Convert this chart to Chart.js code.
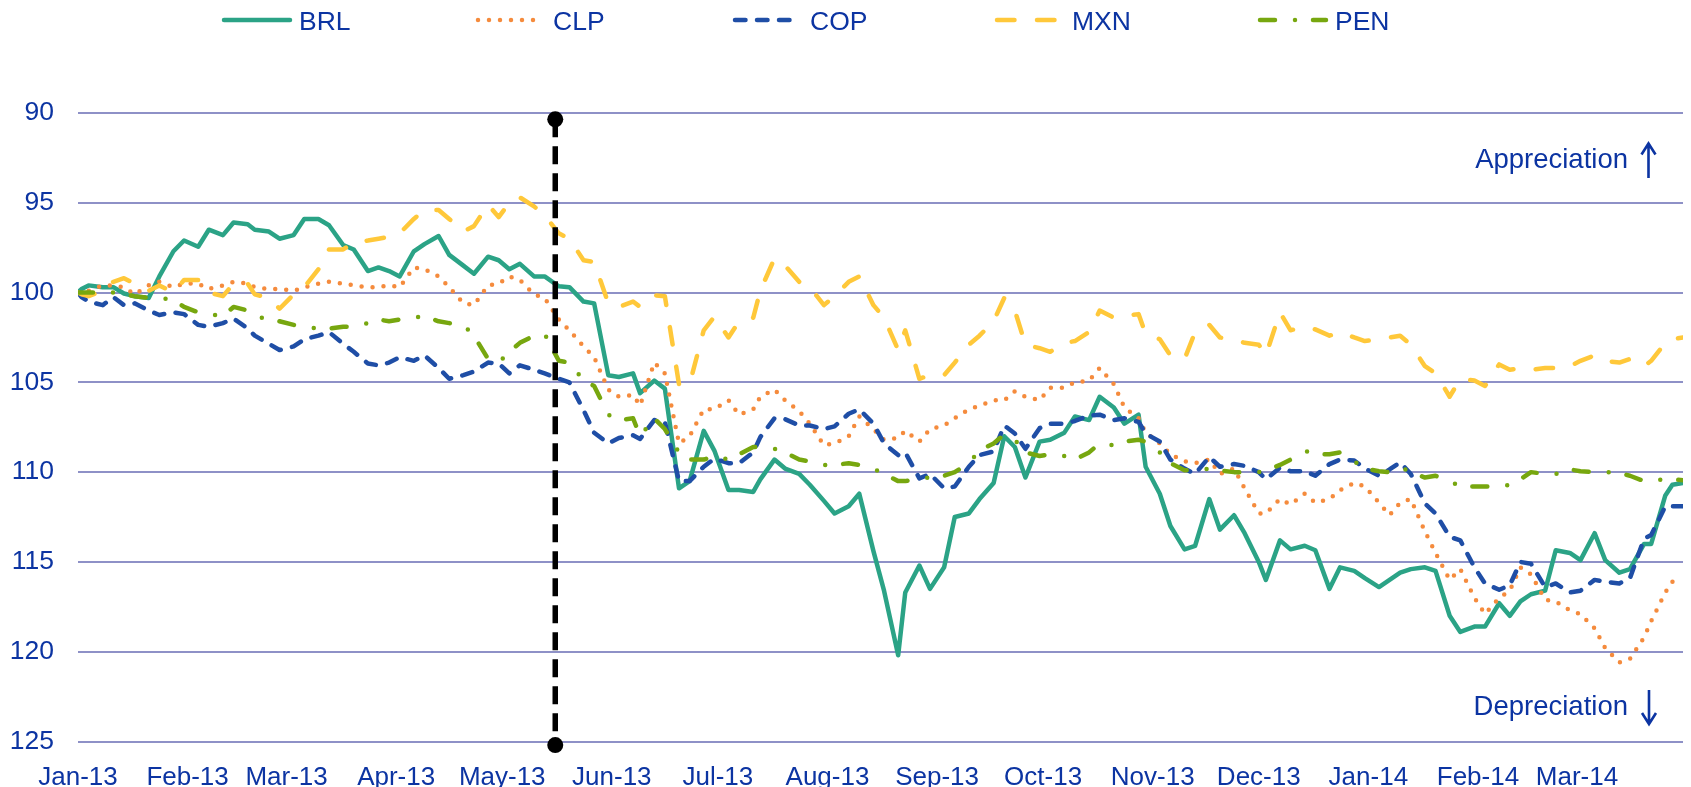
<!DOCTYPE html>
<html>
<head>
<meta charset="utf-8">
<title>LatAm currencies vs USD</title>
<script src="https://cdn.jsdelivr.net/npm/chart.js@4.4.1/dist/chart.umd.min.js"></script>
<style>
  html, body { margin: 0; padding: 0; background: #fff; }
  #wrap { width: 1691px; height: 787px; }
</style>
</head>
<body>
<div id="wrap"><canvas id="fxChart" width="1691" height="787"></canvas></div>
<script>
// index, 1 Jan 2013 = 100 (higher = weaker currency, axis is reversed)
const dates = [
  "2013-01-01","2013-01-02","2013-01-04","2013-01-08","2013-01-11","2013-01-14","2013-01-17","2013-01-21","2013-01-24","2013-01-28","2013-01-31",
  "2013-02-04","2013-02-07","2013-02-11","2013-02-14","2013-02-18","2013-02-20","2013-02-24","2013-02-27",
  "2013-03-03","2013-03-06","2013-03-10","2013-03-13","2013-03-17","2013-03-20","2013-03-24","2013-03-27","2013-03-30",
  "2013-04-02","2013-04-06","2013-04-09","2013-04-13","2013-04-16","2013-04-20","2013-04-23","2013-04-27","2013-04-30",
  "2013-05-03","2013-05-06","2013-05-10","2013-05-13","2013-05-17","2013-05-20","2013-05-24","2013-05-27","2013-05-31",
  "2013-06-03","2013-06-07","2013-06-09","2013-06-13","2013-06-16","2013-06-20","2013-06-23","2013-06-27","2013-06-30",
  "2013-07-04","2013-07-07","2013-07-11","2013-07-13","2013-07-17","2013-07-20","2013-07-24","2013-07-27","2013-07-31",
  "2013-08-03","2013-08-07","2013-08-10","2013-08-14","2013-08-17","2013-08-21","2013-08-23","2013-08-27","2013-08-30",
  "2013-09-03","2013-09-06","2013-09-10","2013-09-13","2013-09-17","2013-09-20","2013-09-23","2013-09-26","2013-09-30",
  "2013-10-03","2013-10-07","2013-10-10","2013-10-14","2013-10-17","2013-10-21","2013-10-24","2013-10-28","2013-10-30",
  "2013-11-03","2013-11-06","2013-11-10","2013-11-13","2013-11-17","2013-11-20","2013-11-24","2013-11-27",
  "2013-12-01","2013-12-03","2013-12-07","2013-12-10","2013-12-14","2013-12-17","2013-12-21","2013-12-24","2013-12-28","2013-12-31",
  "2014-01-04","2014-01-07","2014-01-10","2014-01-13","2014-01-17","2014-01-20","2014-01-24","2014-01-27","2014-01-31",
  "2014-02-03","2014-02-07","2014-02-10","2014-02-13","2014-02-16","2014-02-20","2014-02-23","2014-02-27",
  "2014-03-02","2014-03-06","2014-03-09","2014-03-13","2014-03-16","2014-03-20","2014-03-22","2014-03-26","2014-03-28","2014-03-31"
];

const brl = [
  100,
  99.8, 99.6, 99.7, 99.7, 100.05, 100.2, 100.3, 99.1, 97.7, 97.1,
  97.45, 96.5, 96.8, 96.1, 96.2, 96.5, 96.6, 97.0,
  96.8, 95.9, 95.9, 96.25, 97.35, 97.6, 98.8, 98.6, 98.8,
  99.1, 97.7, 97.3, 96.85, 97.9, 98.5, 98.95, 98.0, 98.2,
  98.7, 98.4, 99.1, 99.1, 99.65, 99.7, 100.5, 100.6, 104.6,
  104.7, 104.5, 105.6, 104.9, 105.35, 110.9, 110.5, 107.7, 108.8,
  111.0, 111.0, 111.1, 110.4, 109.3, 109.8, 110.1, 110.7, 111.6,
  112.3, 111.9, 111.2, 114.4, 116.6, 120.2, 116.7, 115.2, 116.5,
  115.3, 112.5, 112.3, 111.5, 110.6, 108.0, 108.6, 110.3, 108.3,
  108.2, 107.8, 106.9, 107.1, 105.8, 106.4, 107.3, 106.8, 109.7,
  111.2, 113.0, 114.3, 114.1, 111.5, 113.2, 112.4, 113.4,
  115.0, 116.0, 113.8, 114.3, 114.1, 114.35, 116.5, 115.3, 115.5, 115.9,
  116.4, 116.0, 115.6, 115.4, 115.3, 115.5, 118.0, 118.9, 118.6,
  118.6, 117.3, 118.0, 117.2, 116.8, 116.6, 114.35, 114.5,
  114.9, 113.4, 114.9, 115.6, 115.4, 114.0, 114.0, 111.3, 110.7, 110.6
];

const clp = [
  100,
  100.0, 99.9, 99.6, 99.6, 99.7, 100.1, 99.6, 99.4, 99.7, 99.5,
  99.5, 99.8, 99.6, 99.4, 99.5, 99.7, 99.8, 99.8,
  99.9, 99.7, 99.5, 99.4, 99.5, 99.6, 99.7, 99.7, 99.6,
  99.7, 98.6, 98.7, 99.1, 99.7, 100.6, 100.7, 99.6, 99.5,
  99.1, 99.3, 100.1, 100.3, 101.5, 102.1, 103.0, 103.6, 105.4,
  105.8, 105.7, 106.3, 103.9, 104.5, 108.4, 108.0, 106.5, 106.5,
  106.0, 106.8, 106.5, 105.8, 105.4, 106.0, 106.6, 107.3, 108.5,
  108.4, 108.0, 106.9, 107.6, 108.2, 108.1, 107.7, 108.3, 107.6,
  107.4, 107.0, 106.5, 106.3, 106.0, 106.0, 105.5, 105.8, 106.0,
  105.3, 105.3, 105.0, 104.9, 104.2, 105.1, 106.4, 107.0, 107.8,
  108.4, 109.0, 109.4, 109.5, 109.3, 110.1, 109.8, 110.9,
  112.3, 112.3, 111.5, 111.8, 111.2, 111.7, 111.5, 111.0, 110.6, 110.8,
  111.7, 112.4, 111.7, 111.5, 113.3, 114.5, 116.0, 115.4, 117.0,
  117.9, 117.0, 116.6, 115.3, 115.7, 117.1, 117.2, 117.7,
  117.9, 118.7, 119.8, 120.6, 120.4, 119.2, 118.3, 116.7, 116.1, 116.1
];

const cop = [
  100,
  100.25, 100.5, 100.7, 100.25, 100.7, 100.6, 101.0, 101.25, 101.1, 101.2,
  101.8, 101.9, 101.7, 101.45, 102.0, 102.4, 102.85, 103.2,
  103.0, 102.6, 102.4, 102.2, 102.85, 103.3, 103.95, 104.05, 103.9,
  103.6, 103.8, 103.5, 104.2, 104.8, 104.6, 104.4, 103.9, 103.95,
  104.5, 104.05, 104.3, 104.5, 104.8, 105.0, 106.55, 107.8, 108.4,
  108.1, 107.95, 108.15, 107.1, 107.2, 110.5, 110.5, 109.7, 109.25,
  109.5, 109.5, 108.9, 108.05, 107.0, 107.05, 107.4, 107.4, 107.6,
  107.45, 106.75, 106.5, 107.3, 108.4, 109.05, 108.9, 110.35, 110.1,
  110.9, 110.8, 109.7, 109.05, 108.85, 107.4, 107.85, 108.7, 107.55,
  107.3, 107.3, 107.15, 106.85, 106.8, 107.1, 107.0, 107.2, 107.85,
  108.3, 109.3, 109.8, 110.1, 109.15, 109.7, 109.55, 109.65,
  110.0, 110.4, 109.75, 109.95, 109.95, 110.2, 109.55, 109.3, 109.35, 109.8,
  110.2, 109.85, 109.45, 110.1, 111.75, 112.3, 113.6, 113.8, 115.3,
  116.2, 116.55, 116.3, 115.0, 115.1, 116.4, 116.2, 116.7,
  116.6, 116.0, 116.1, 116.2, 115.9, 113.7, 113.5, 111.9, 111.9, 111.9
];

const mxn = [
  100,
  100.1, 100.2, 99.9, 99.4, 99.2, 99.5, 99.9, 99.6, 100.0, 99.3,
  99.3, 100.0, 100.2, 99.5, 99.5, 100.1, 100.3, 100.9,
  100.1, 99.7, 98.7, 97.6, 97.6, 97.2, 97.1, 97.0, 96.9,
  96.7, 95.9, 95.4, 95.4, 95.9, 96.6, 96.3, 95.1, 95.8,
  95.0, 94.7, 95.2, 95.7, 96.7, 97.0, 98.2, 98.3, 100.6,
  100.8, 100.5, 100.8, 100.15, 100.2, 105.1, 105.1, 102.1, 101.35,
  102.5, 101.6, 101.4, 99.9, 98.1, 98.5, 99.4, 99.7, 100.7,
  100.2, 99.4, 99.1, 100.7, 101.4, 103.2, 102.1, 104.8, 104.6,
  104.6, 103.9, 102.9, 102.4, 101.6, 100.3, 101.0, 102.9, 103.1,
  103.3, 102.8, 102.7, 102.2, 101.0, 101.4, 101.3, 101.2, 102.3,
  102.6, 103.5, 103.7, 102.2, 101.8, 102.5, 102.6, 102.8,
  102.9, 103.5, 101.1, 102.1, 101.9, 102.05, 102.4, 102.2, 102.5, 102.7,
  102.6, 102.5, 102.4, 102.9, 104.1, 104.5, 105.8, 104.8, 104.9,
  105.2, 104.0, 104.3, 104.2, 104.3, 104.2, 104.2, 104.1,
  103.8, 103.5, 103.8, 103.9, 103.7, 104.1, 103.8, 102.8, 102.6, 102.5
];

const pen = [
  100,
  100.0, 100.0, 100.0, 100.0, 100.1, 100.2, 100.3, 100.3, 100.4, 100.8,
  101.1, 101.2, 101.3, 100.8, 101.0, 101.35, 101.45, 101.6,
  101.8, 101.9, 102.0, 102.0, 101.9, 101.9, 101.7, 101.5, 101.6,
  101.5, 101.4, 101.3, 101.6, 101.7, 101.8, 102.4, 103.7, 103.9,
  103.3, 102.8, 102.4, 102.3, 103.8, 103.9, 104.9, 105.2, 106.8,
  107.1, 107.0, 108.0, 107.0, 107.6, 108.9, 109.3, 109.3, 109.1,
  109.3, 109.0, 108.6, 108.6, 108.7, 108.9, 109.3, 109.4, 109.6,
  109.6, 109.5, 109.6, 109.8, 110.1, 110.5, 110.5, 110.35, 110.3,
  110.2, 110.0, 109.5, 108.8, 108.4, 107.9, 108.2, 108.9, 109.1,
  109.0, 109.1, 109.3, 108.9, 108.4, 108.5, 108.3, 108.2, 108.3,
  108.9, 109.5, 109.9, 109.9, 109.8, 109.9, 110.0, 110.0,
  110.0, 109.9, 109.6, 109.3, 108.8, 109.0, 109.0, 108.9, 109.4, 109.8,
  109.95, 110.0, 109.7, 110.0, 110.3, 110.2, 110.5, 110.8, 110.8,
  110.8, 110.8, 110.7, 110.4, 110.0, 110.1, 110.1, 109.85,
  109.95, 110.0, 110.0, 110.05, 110.2, 110.5, 110.45, 110.4, 110.4, 110.45
];

const monthTicks = ["2013-01-01","2013-02-01","2013-03-01","2013-04-01","2013-05-01","2013-06-01","2013-07-01",
  "2013-08-01","2013-09-01","2013-10-01","2013-11-01","2013-12-01","2014-01-01","2014-02-01","2014-03-01"];
const monthLabels = ["Jan-13","Feb-13","Mar-13","Apr-13","May-13","Jun-13","Jul-13",
  "Aug-13","Sep-13","Oct-13","Nov-13","Dec-13","Jan-14","Feb-14","Mar-14"];

const taperDate = "2013-05-16";
const taperSpan = [90.35, 125.2];

const textColor = "#0c34a2";
const gridColor = "#8e91c7";
const fontFamily = '"Liberation Sans", Arial, sans-serif';

function dayOf(s) {
  return (Date.UTC(+s.slice(0, 4), +s.slice(5, 7) - 1, +s.slice(8, 10)) - Date.UTC(2013, 0, 1)) / 86400000;
}

function series(label, values, color, dash, order) {
  return {
    label: label,
    data: dates.map((d, i) => ({ x: dayOf(d), y: values[i] })),
    borderColor: color,
    backgroundColor: color,
    borderWidth: 4.5,
    borderDash: dash,
    borderCapStyle: "round",
    borderJoinStyle: "round",
    pointRadius: 0,
    tension: 0,
    order: order
  };
}

function drawArrow(ctx, x, top, bottom, up) {
  const tip = up ? top : bottom;
  const dir = up ? 1 : -1;
  ctx.beginPath();
  ctx.moveTo(x, top);
  ctx.lineTo(x, bottom);
  ctx.moveTo(x - 7, tip + dir * 11);
  ctx.lineTo(x, tip);
  ctx.lineTo(x + 7, tip + dir * 11);
  ctx.stroke();
}

// legend line starts (px) and annotations are drawn by hand
const legendX = [224, 478, 735, 997, 1260];
const fxLegend = {
  id: "fxLegend",
  afterDraw(chart) {
    const ctx = chart.ctx;
    ctx.save();
    chart.data.datasets.forEach((ds, i) => {
      if (ds.isMarker) return;
      const x = legendX[i];
      ctx.beginPath();
      ctx.strokeStyle = ds.borderColor;
      ctx.lineWidth = ds.borderWidth;
      ctx.lineCap = "round";
      ctx.setLineDash(ds.borderDash);
      ctx.moveTo(x, 20);
      ctx.lineTo(x + 66, 20);
      ctx.stroke();
      ctx.setLineDash([]);
      ctx.fillStyle = textColor;
      ctx.font = "26.5px " + fontFamily;
      ctx.textAlign = "left";
      ctx.textBaseline = "alphabetic";
      ctx.fillText(ds.label, x + 75, 29.5);
    });
    ctx.font = "27.5px " + fontFamily;
    ctx.fillStyle = textColor;
    ctx.strokeStyle = textColor;
    ctx.lineWidth = 2.6;
    ctx.lineCap = "butt";
    ctx.textAlign = "right";
    ctx.fillText("Appreciation", 1628, 168);
    ctx.fillText("Depreciation", 1628, 715);
    drawArrow(ctx, 1648.5, 143.5, 178, true);
    drawArrow(ctx, 1649, 690, 724, false);
    ctx.restore();
  }
};

Chart.defaults.font.family = fontFamily;

const ctx = document.getElementById("fxChart").getContext("2d");
const fxChart = new Chart(ctx, {
  type: "line",
  data: {
    datasets: [
      series("BRL", brl, "#2ba386", [], 5),
      series("CLP", clp, "#f58b3d", [0, 11], 4),
      series("COP", cop, "#1f4ea6", [10.5, 11.5], 3),
      series("MXN", mxn, "#ffc83a", [17.5, 22.5], 2),
      series("PEN", pen, "#77a70f", [15, 20, 0, 18], 1),
      {
        label: "taper",
        isMarker: true,
        data: taperSpan.map(v => ({ x: dayOf(taperDate), y: v })),
        borderColor: "#000",
        backgroundColor: "#000",
        borderWidth: 5.5,
        borderDash: [18, 9],
        borderCapStyle: "butt",
        pointRadius: 8,
        pointBorderWidth: 0,
        pointBackgroundColor: "#000",
        clip: false,
        order: 0
      }
    ]
  },
  options: {
    responsive: false,
    animation: false,
    devicePixelRatio: 1,
    layout: { padding: { top: 113, left: 0, right: 7, bottom: 0 } },
    plugins: {
      legend: { display: false },
      tooltip: { enabled: false }
    },
    scales: {
      x: {
        type: "linear",
        min: 0,
        max: dayOf("2014-03-31"),
        grid: { display: false },
        border: { display: false },
        afterBuildTicks(axis) {
          axis.ticks = monthTicks.map(d => ({ value: dayOf(d) }));
        },
        afterFit(axis) { axis.height = 45.5; },
        ticks: {
          autoSkip: false,
          maxRotation: 0,
          padding: 13,
          color: textColor,
          font: { size: 26 },
          callback: (value, index) => monthLabels[index]
        }
      },
      y: {
        reverse: true,
        min: 90,
        max: 125,
        afterFit(axis) { axis.width = 78; },
        ticks: { stepSize: 5, padding: 24, color: textColor, font: { size: 26.5 } },
        grid: { color: gridColor, lineWidth: 2, drawTicks: false },
        border: { display: false }
      }
    }
  },
  plugins: [fxLegend]
});
</script>
</body>
</html>
